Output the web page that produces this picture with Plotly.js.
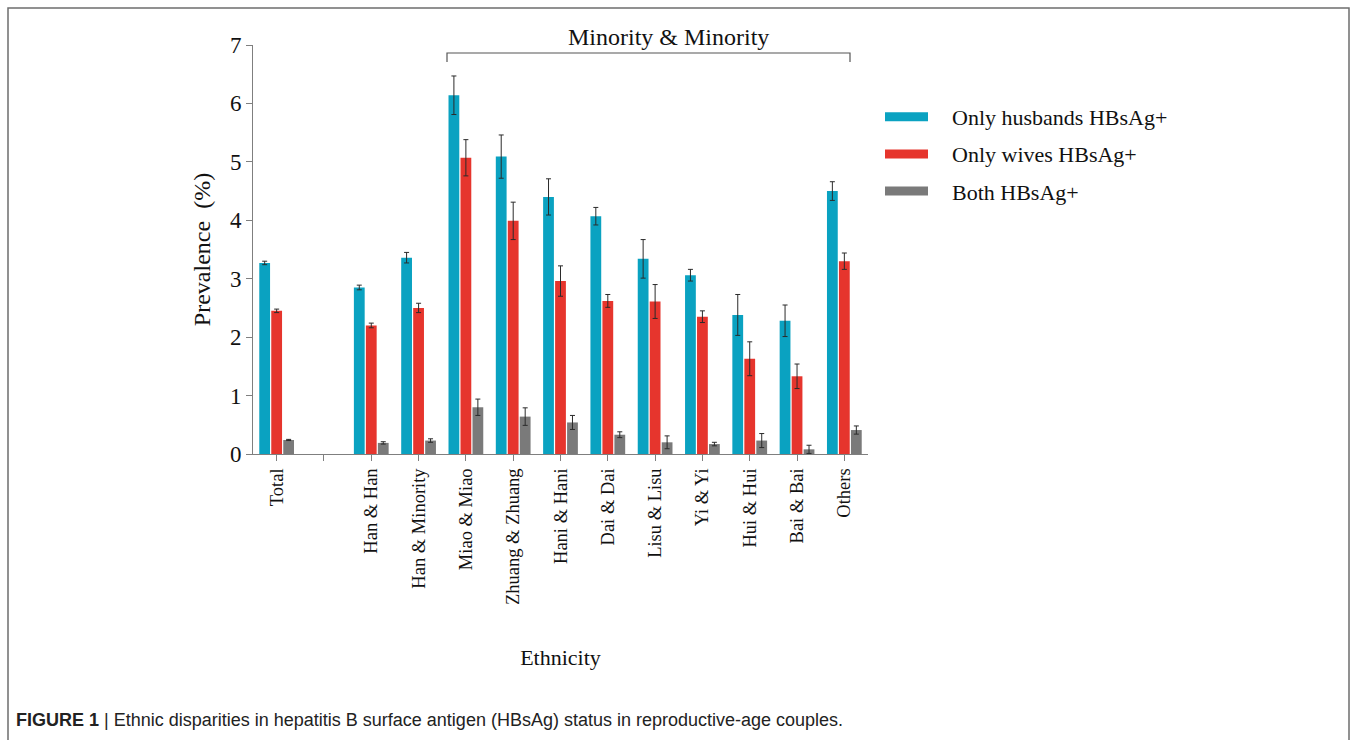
<!DOCTYPE html>
<html>
<head>
<meta charset="utf-8">
<script src="https://cdn.plot.ly/plotly-3.0.1.min.js"></script>
<style>
  html, body { margin: 0; padding: 0; background: #fff; }
  #chart { width: 1357px; height: 740px; }
</style>
</head>
<body>
<div id="chart"></div>
<script>
// ---- data ----
const categories = ["Total", " ", "Han & Han", "Han & Minority", "Miao & Miao", "Zhuang & Zhuang",
  "Hani & Hani", "Dai & Dai", "Lisu & Lisu", "Yi & Yi", "Hui & Hui", "Bai & Bai", "Others"];

const husbands    = [3.27, null, 2.85, 3.36, 6.14, 5.09, 4.40, 4.07, 3.34, 3.06, 2.38, 2.28, 4.50];
const husbandsErr = [0.03, null, 0.04, 0.09, 0.33, 0.37, 0.31, 0.15, 0.33, 0.10, 0.35, 0.27, 0.16];

const wives       = [2.45, null, 2.20, 2.50, 5.07, 3.99, 2.96, 2.62, 2.61, 2.35, 1.63, 1.33, 3.30];
const wivesErr    = [0.03, null, 0.04, 0.08, 0.31, 0.32, 0.26, 0.11, 0.29, 0.10, 0.29, 0.21, 0.14];

const both        = [0.24, null, 0.19, 0.23, 0.80, 0.64, 0.54, 0.33, 0.20, 0.17, 0.23, 0.08, 0.41];
const bothErr     = [0.01, null, 0.02, 0.03, 0.14, 0.15, 0.12, 0.05, 0.11, 0.03, 0.12, 0.07, 0.07];

const seriesNames = ["Only husbands HBsAg+", "Only wives HBsAg+", "Both HBsAg+"];
const yTicks = [0, 1, 2, 3, 4, 5, 6, 7];
const bracketLabel = "Minority & Minority";
const xTitle = "Ethnicity";
const yTitle = "Prevalence\u00a0\u00a0(%)";
const caption = "<b>FIGURE 1</b> | Ethnic disparities in hepatitis B surface antigen (HBsAg) status in reproductive-age couples.";

// ---- styling ----
const colors = ["#0aa2c1", "#e6352d", "#7a7a7a"];
const serif = "Liberation Serif, Times New Roman, serif";

const values = [husbands, wives, both];
const errs = [husbandsErr, wivesErr, bothErr];

const traces = [];
for (let i = 0; i < 3; i++) {
  traces.push({
    type: "bar",
    x: categories,
    y: values[i],
    name: seriesNames[i],
    marker: { color: colors[i], line: { width: 0 } },
    error_y: { type: "data", array: errs[i], visible: true, color: "#2b2b2b", thickness: 1, width: 2.5 },
    showlegend: false,
    hoverinfo: "x+y"
  });
}
// legend entries drawn as thick line swatches like the reference
for (let i = 0; i < 3; i++) {
  traces.push({
    type: "scatter",
    mode: "lines",
    x: [null],
    y: [null],
    name: seriesNames[i],
    legendgroup: "g" + i,
    line: { color: colors[i], width: 9 },
    hoverinfo: "skip"
  });
}

// pixel helpers for decorations (plot area: x 253..868, y 45..454)
const L = 253, R = 868, T = 45, B = 454;
const px = v => (v - L) / (R - L);
const py = v => (B - v) / (B - T);

const layout = {
  width: 1357,
  height: 740,
  margin: { l: L, r: 1357 - R, t: T, b: 740 - B, pad: 0 },
  paper_bgcolor: "#ffffff",
  plot_bgcolor: "#ffffff",
  font: { family: serif, color: "#111" },
  barmode: "group",
  bargap: 0.24,
  bargroupgap: 0.1,
  showlegend: true,
  legend: {
    x: px(878), y: py(96), xanchor: "left", yanchor: "top",
    font: { family: serif, size: 22, color: "#111" },
    tracegroupgap: 5.5,
    bgcolor: "rgba(0,0,0,0)"
  },
  xaxis: {
    type: "category",
    categoryorder: "array",
    categoryarray: categories,
    showline: true, linecolor: "#7f7f7f", linewidth: 1,
    ticks: "outside", ticklen: 6, tickcolor: "#7f7f7f", tickwidth: 1,
    tickangle: -90,
    tickfont: { family: serif, size: 18.5, color: "#111" },
    showgrid: false, zeroline: false,
    title: { text: xTitle, font: { family: serif, size: 22, color: "#111" }, standoff: 45 }
  },
  yaxis: {
    range: [0, 7],
    tickvals: yTicks,
    showline: true, linecolor: "#7f7f7f", linewidth: 1,
    ticks: "outside", ticklen: 6, tickcolor: "#7f7f7f", tickwidth: 1,
    tickfont: { family: serif, size: 23, color: "#111" },
    showgrid: false, zeroline: false,
    title: { text: yTitle, font: { family: serif, size: 24, color: "#111" }, standoff: 12 }
  },
  shapes: [
    // bracket over minority-minority couples
    { type: "path", xref: "paper", yref: "paper",
      path: `M ${px(447)} ${py(62)} L ${px(447)} ${py(53)} L ${px(850)} ${py(53)} L ${px(850)} ${py(62)}`,
      line: { color: "#555", width: 1.2 } },
    // figure frame (left, top, right)
    { type: "path", xref: "paper", yref: "paper",
      path: `M ${px(8)} ${py(745)} L ${px(8)} ${py(8)} L ${px(1349)} ${py(8)} L ${px(1349)} ${py(745)}`,
      line: { color: "#6e6e6e", width: 1.5 } }
  ],
  annotations: [
    { xref: "paper", yref: "paper", x: px(668), y: py(37), xanchor: "center", yanchor: "middle",
      text: bracketLabel, showarrow: false, font: { family: serif, size: 24, color: "#111" } },
    { xref: "paper", yref: "paper", x: px(14), y: py(720), xanchor: "left", yanchor: "middle",
      text: caption, showarrow: false, font: { family: "Liberation Sans, Arial, sans-serif", size: 18, color: "#222" } }
  ]
};

Plotly.newPlot("chart", traces, layout, { displayModeBar: false, staticPlot: true }).then(function (gd) {
  // widen the legend swatches and move the labels like the reference legend
  gd.querySelectorAll(".legend [clip-path]").forEach(function (el) {
    el.removeAttribute("clip-path");
  });
  gd.querySelectorAll(".legend .legendlines path").forEach(function (p) {
    p.setAttribute("d", "M7,0h43");
  });
  gd.querySelectorAll(".legend text.legendtext").forEach(function (t) {
    t.setAttribute("x", "74");
  });
});
</script>
</body>
</html>
